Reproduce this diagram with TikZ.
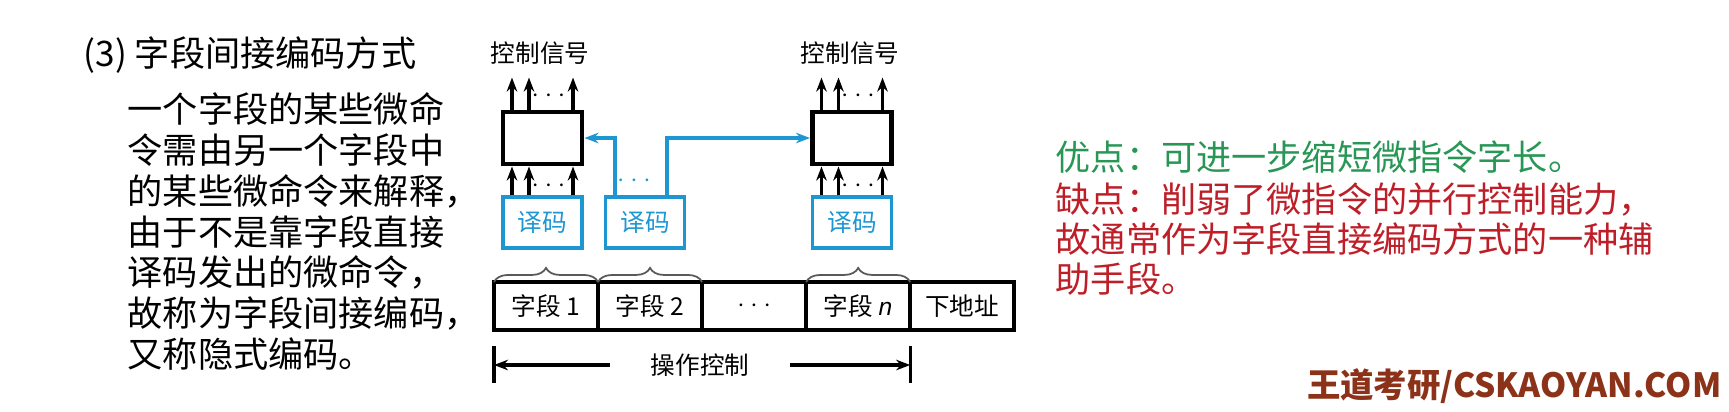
\documentclass[tikz,border=0pt]{standalone}
\usepackage{fontspec}
\setmainfont{Liberation Sans}
\newfontfamily\cjk{Noto Sans CJK SC}
\usetikzlibrary{positioning,decorations.pathreplacing,arrows.meta}
\definecolor{decblue}{RGB}{30,150,210}
\definecolor{progreen}{RGB}{40,150,85}
\definecolor{conred}{RGB}{190,30,40}
\definecolor{logobrown}{RGB}{140,50,25}
\tikzset{
  unitbox/.style={draw, line width=1.4pt, minimum width=0.79cm, minimum height=0.52cm, inner sep=0},
  decbox/.style={draw=decblue, line width=1pt, text=decblue, minimum width=0.79cm, minimum height=0.51cm, inner sep=0, font=\cjk\fontsize{7}{8}\selectfont},
  fieldbox/.style={draw, line width=1.2pt, minimum width=1.04cm, minimum height=0.48cm, inner sep=0, outer sep=0, font=\cjk\fontsize{7}{8}\selectfont},
  sig/.style={-{Stealth[length=4pt,width=3pt]}, line width=0.9pt},
  bluesig/.style={-{Stealth[length=4pt,width=3pt]}, line width=1pt, decblue},
  lbl/.style={font=\cjk\fontsize{7}{8}\selectfont, inner sep=0},
  bodytext/.style={font=\cjk\fontsize{10}{11.7}\selectfont, inner sep=0, anchor=north west, align=left},
  fieldbrace/.style={decorate, decoration={brace, amplitude=4pt}, line width=0.5pt, gray!70!black}
}
\begin{document}
\begin{tikzpicture}[x=0.01cm, y=-0.01cm]
    \useasboundingbox (0,0) rectangle (1729,411);
    %left text
    \node[bodytext, anchor=west] (title) at (83,55) {(3) 字段间接编码方式};
    \node[bodytext, font=\cjk\fontsize{10}{11.6}\selectfont] (desc) at (127,92) {一个字段的某些微命\\令需由另一个字段中\\的某些微命令来解释，\\由于不是靠字段直接\\译码发出的微命令，\\故称为字段间接编码，\\又称隐式编码。};
    %units and decoders
    \node[unitbox] (unitA) at (542.5,138) {};
    \node[unitbox] (unitB) at (852,138) {};
    \node[decbox] (decA) at (542.5,222.5) {译码};
    \node[decbox] (decB) at (645,222.5) {译码};
    \node[decbox] (decC) at (852,222.5) {译码};
    \node[lbl] (sigA) at (540,53) {控制信号};
    \node[lbl] (sigB) at (850,53) {控制信号};
    \foreach \u/\d in {unitA/decA, unitB/decC} {
      \foreach \dx in {-0.305,-0.135,0.305} {
        \draw[sig] ([xshift=\dx cm]\d.north) -- ([xshift=\dx cm]\u.south);
        \draw[sig] ([xshift=\dx cm]\u.north) -- ++(0,-32);
      }
      \node[lbl] at ([xshift=0.06cm,yshift=0.14cm]\u.north) {$\cdots$};
      \node[lbl] at ([xshift=0.06cm,yshift=-0.19cm]\u.south) {$\cdots$};
    }
    \draw[bluesig] ([xshift=-0.3cm]decB.north) |- (unitA.east);
    \draw[bluesig] ([xshift=0.22cm]decB.north) |- (unitB.west);
    \node[lbl, text=decblue] at ([xshift=-0.11cm,yshift=0.14cm]decB.north) {$\cdots$};
    %fields
    \node[fieldbox] (fldA) at (546,306) {字段 1};
    \node[fieldbox, right=0pt of fldA] (fldB) {字段 2};
    \node[fieldbox, right=0pt of fldB] (fldC) {$\cdots$};
    \node[fieldbox, right=0pt of fldC] (fldD) {字段 {\rmfamily\itshape n}};
    \node[fieldbox, right=0pt of fldD] (fldE) {下地址};
    \foreach \f in {fldA,fldB,fldD}
      \draw[fieldbrace] (\f.north west) -- (\f.north east);
    %operation control span
    \node[lbl, inner xsep=0.4cm] (ctl) at (700,365) {操作控制};
    \draw[sig] (ctl.west) -- (fldA.west |- ctl);
    \draw[sig] (ctl.east) -- (fldD.east |- ctl);
    \draw[line width=0.9pt] ([yshift=-0.16cm]fldA.south west) -- ++(0,37);
    \draw[line width=0.9pt] ([yshift=-0.16cm]fldD.south east) -- ++(0,37);
    %right text
    \node[bodytext, anchor=west, text=progreen] (pro) at (1055,157) {优点：可进一步缩短微指令字长。};
    \node[bodytext, text=conred, font=\cjk\fontsize{10}{11.4}\selectfont] (con) at (1055,182) {缺点：削弱了微指令的并行控制能力，\\故通常作为字段直接编码方式的一种辅\\助手段。};
    %logo
    \node[font=\cjk\bfseries\fontsize{9.5}{10}\selectfont, text=logobrown, anchor=east, inner sep=0] (logo) at (1722,386) {王道考研/CSKAOYAN.COM};
\end{tikzpicture}
\end{document}
